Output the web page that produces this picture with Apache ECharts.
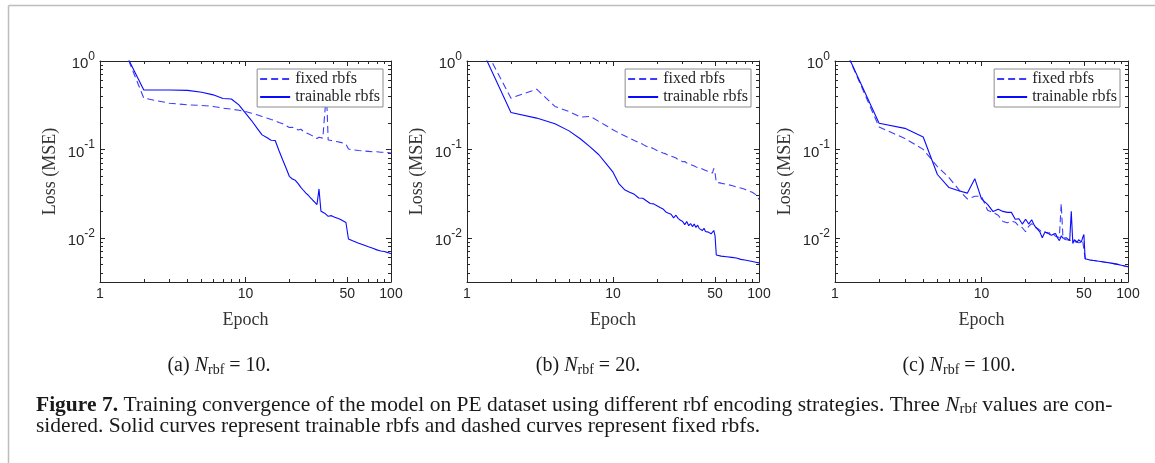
<!DOCTYPE html>
<html><head><meta charset="utf-8">
<script src="https://cdn.jsdelivr.net/npm/echarts@6/dist/echarts.min.js"></script>
<style>html,body{margin:0;padding:0;background:#fff}#c{width:1155px;height:463px}</style>
</head><body><div id="c"></div>
<script>
// ---------------- data ----------------
const epochs = [1,2,3,4,5,6,7,8,9,10,11,12,13,14,15,16,17,18,19,20,21,22,23,24,25,26,27,28,29,30,
  31,32,33,34,35,36,37,38,39,40,41,42,43,44,45,46,47,48,49,50,51,52,55,60,65,70,75,80,85,90,95,100];

// (a) N_rbf = 10
const trainA = [4.6,0.47,0.47,0.465,0.443,0.414,0.376,0.372,0.319,0.257,
  0.212,0.174,0.146,0.136,0.127,0.126,0.0966,0.0764,0.0616,0.0496,
  0.0463,0.0447,0.041,0.0372,0.0345,0.032,0.0303,0.0283,0.0266,0.0252,
  0.0238,0.0357,0.0200,0.0196,0.0190,0.0188,0.0175,0.0183,0.0178,0.0175,
  0.0171,0.0168,0.0166,0.0163,0.0161,0.0158,0.0155,0.0152,0.0149,0.0145,
  0.0097,0.0095,
  0.0092,0.0087,0.0083,0.0079,0.0076,0.0073,0.0071,0.0070,0.0068,0.0066];
const fixedA = [6.5,0.38,0.333,0.319,0.314,0.306,0.293,0.285,0.277,0.268,
  0.257,0.246,0.236,0.226,0.218,0.211,0.202,0.195,0.185,0.177,
  0.178,0.172,0.166,0.169,0.160,0.155,0.150,0.146,0.142,0.138,
  0.133,0.137,0.135,0.134,0.133,0.45,0.128,0.127,0.126,0.125,
  0.124,0.123,0.122,0.121,0.120,0.119,0.118,0.117,0.115,0.112,
  0.101,0.100,
  0.099,0.097,0.096,0.095,0.094,0.094,0.093,0.093,0.092,0.091];

// (b) N_rbf = 20
const trainB = [3.1,0.261,0.226,0.195,0.162,0.131,0.106,0.087,0.0687,0.0552,
  0.0407,0.035,0.0327,0.031,0.0282,0.028,0.0261,0.0244,0.0242,0.023,
  0.022,0.0212,0.0196,0.019,0.0185,0.0168,0.018,0.0165,0.0158,0.0153,
  0.0141,0.0153,0.0137,0.0145,0.0134,0.0143,0.0131,0.0139,0.0127,0.013,
  0.0121,0.0128,0.0118,0.0123,0.0116,0.0121,0.0111,0.0114,0.0121,0.0105,
  0.0064,0.0063,
  0.0062,0.0061,0.0060,0.0059,0.0057,0.0056,0.0055,0.0054,0.0053,0.0052];
const fixedB = [3.34,0.38,0.48,0.306,0.268,0.232,0.236,0.207,0.185,0.167,
  0.153,0.143,0.134,0.126,0.12,0.114,0.108,0.106,0.102,0.097,
  0.094,0.091,0.089,0.085,0.0837,0.082,0.08,0.076,0.075,0.0725,
  0.073,0.07,0.0688,0.0672,0.068,0.065,0.066,0.062,0.064,0.061,
  0.062,0.059,0.06,0.057,0.059,0.055,0.057,0.054,0.061,0.054,
  0.0425,0.042,
  0.0415,0.0403,0.039,0.0375,0.0366,0.0354,0.0338,0.0327,0.0308,0.0272];

// (c) N_rbf = 100
const trainC = [2.4,0.198,0.173,0.138,0.052,0.037,0.034,0.032,0.0467,0.0275,
  0.0239,0.0198,0.021,0.0199,0.0194,0.0194,0.0162,0.0164,0.0143,0.0162,
  0.0143,0.016,0.0137,0.0126,0.0117,0.0100,0.0115,0.0115,0.011,0.0107,
  0.011,0.0112,0.0100,0.0093,0.0105,0.0099,0.0099,0.01,0.0097,0.0093,
  0.0199,0.0086,0.0095,0.0093,0.0089,0.0095,0.0093,0.009,0.0100,0.0109,
  0.0058,0.0057,
  0.0056,0.0055,0.0054,0.0053,0.0052,0.0051,0.0050,0.0049,0.0048,0.0047];
const fixedC = [2.5,0.179,0.133,0.1,0.064,0.048,0.035,0.0275,0.0295,0.0295,
  0.0205,0.0193,0.018,0.0153,0.0148,0.0154,0.015,0.0135,0.013,0.0117,
  0.0135,0.0145,0.0132,0.0128,0.0122,0.0115,0.0118,0.0112,0.0114,0.0108,
  0.011,0.0104,0.0106,0.0101,0.0245,0.0098,0.0101,0.0095,0.0098,0.0094,
  0.0096,0.0091,0.0094,0.009,0.0093,0.0088,0.0092,0.0089,0.0094,0.009,
  0.0058,0.0057,
  0.0056,0.0055,0.0054,0.0053,0.0052,0.0051,0.005,0.0049,0.0048,0.0047];

const xMajorTicks = [1,10,50,100];
const xMinorTicks = [2,3,4,5,6,7,8,9,20,30,40,60,70,80,90];
const yMajorTicks = [0.01,0.1,1];
const yMinorTicks = [0.004,0.005,0.006,0.007,0.008,0.009,0.02,0.03,0.04,0.05,0.06,0.07,0.08,0.09,0.2,0.3,0.4,0.5,0.6,0.7,0.8,0.9];
const X_MIN = 1, X_MAX = 100, Y_MIN = 0.0031623, Y_MAX = 1;
const legendNames = ['fixed rbfs','trainable rbfs'];
const panelLetters = ['a','b','c'];
const panelNrbf = ['10','20','100'];
const xName = 'Epoch';
const yName = 'Loss (MSE)';
const captionLine1 = ['Figure 7.', ' Training convergence of the model on PE dataset using different rbf encoding strategies. Three ', 'N', 'rbf', ' values are con-'];
const captionLine2 = 'sidered. Solid curves represent trainable rbfs and dashed curves represent fixed rbfs.';

// ---------------- layout / style ----------------
const panels = [
  {grid:{left:100, top:61, width:291, height:221}, legendRight:772, capX:219, fixed:fixedA, train:trainA},
  {grid:{left:467, top:61, width:292, height:221}, legendRight:404, capX:588, fixed:fixedB, train:trainB},
  {grid:{left:835, top:61, width:293, height:221}, legendRight:35,  capX:959, fixed:fixedC, train:trainC}
];
const SANS = 'Liberation Sans, Arial, sans-serif';
const SERIF = 'Liberation Serif, Times New Roman, serif';
const AX = '#262626';
const TXT = '#1a1a1a';
const BLUE_SOLID = '#0a0aff';
const BLUE_DASH = '#3c3cff';

const grids = [], xAxes = [], yAxes = [], series = [], legends = [], gEls = [];

function xAxisDef(gi, pos, ticks, len, label, line, name) {
  return {
    type:'log', logBase:10, gridIndex:gi, position:pos, min:X_MIN, max:X_MAX,
    axisLine:{show:line, onZero:false, lineStyle:{color:AX, width:1}},
    axisTick:{show:true, inside:true, length:len, customValues:ticks, lineStyle:{color:AX, width:1}},
    axisLabel: label ? {show:true, customValues:xMajorTicks, margin:5, color:AX, fontFamily:SANS, fontSize:14,
      formatter:v => String(Math.round(v))} : {show:false},
    splitLine:{show:false}, minorTick:{show:false},
    name: name || '', nameLocation:'middle', nameGap:29,
    nameTextStyle:{fontFamily:SERIF, fontSize:18, color:'#333'}
  };
}
function yAxisDef(gi, pos, ticks, len, label, line, name) {
  return {
    type:'log', logBase:10, gridIndex:gi, position:pos, min:Y_MIN, max:Y_MAX,
    axisLine:{show:line, onZero:false, lineStyle:{color:AX, width:1}},
    axisTick:{show:true, inside:true, length:len, customValues:ticks, lineStyle:{color:AX, width:1}},
    axisLabel: label ? {show:true, customValues:yMajorTicks, margin:5, color:AX,
      formatter:v => '{b|10}{s|' + Math.round(Math.log10(v)) + '}',
      rich:{
        b:{fontFamily:SANS, fontSize:15, color:AX, lineHeight:21, verticalAlign:'bottom'},
        s:{fontFamily:SANS, fontSize:12, color:AX, lineHeight:21, verticalAlign:'top'}
      }} : {show:false},
    splitLine:{show:false}, minorTick:{show:false},
    name: name || '', nameLocation:'middle', nameGap:41, nameRotate:90,
    nameTextStyle:{fontFamily:SERIF, fontSize:18, color:'#333'}
  };
}

panels.forEach((p, gi) => {
  grids.push(p.grid);
  const xb = xAxes.length, yb = yAxes.length;
  xAxes.push(xAxisDef(gi,'bottom',xMajorTicks,5,true,true,xName));
  xAxes.push(xAxisDef(gi,'bottom',xMinorTicks,3,false,false));
  xAxes.push(xAxisDef(gi,'top',xMajorTicks,5,false,true));
  xAxes.push(xAxisDef(gi,'top',xMinorTicks,3,false,false));
  yAxes.push(yAxisDef(gi,'left',yMajorTicks,5,true,true,yName));
  yAxes.push(yAxisDef(gi,'left',yMinorTicks,3,false,false));
  yAxes.push(yAxisDef(gi,'right',yMajorTicks,5,false,true));
  yAxes.push(yAxisDef(gi,'right',yMinorTicks,3,false,false));

  series.push({
    name:legendNames[0], type:'line', xAxisIndex:xb, yAxisIndex:yb,
    data:epochs.map((e,i)=>[e, p.fixed[i]]),
    symbol:'none', showSymbol:false, clip:true, z:2,
    lineStyle:{color:BLUE_DASH, width:1.1, type:[7,4]}, itemStyle:{color:BLUE_DASH}
  });
  series.push({
    name:legendNames[1], type:'line', xAxisIndex:xb, yAxisIndex:yb,
    data:epochs.map((e,i)=>[e, p.train[i]]),
    symbol:'none', showSymbol:false, clip:true, z:3,
    lineStyle:{color:BLUE_SOLID, width:1.1, type:'solid'}, itemStyle:{color:BLUE_SOLID}
  });

  legends.push({
    orient:'vertical', right:p.legendRight, top:69, data:legendNames,
    backgroundColor:'#ffffff', borderColor:'#8c8c8c', borderWidth:1, borderRadius:0,
    padding:[2,3,2,2], itemGap:2, itemWidth:30, itemHeight:14, selectedMode:false,
    itemStyle:{opacity:0, borderWidth:0},
    textStyle:{fontFamily:SERIF, fontSize:16, color:'#262626'}, z:10
  });

  gEls.push({
    type:'text', x:p.capX, y:366, silent:true,
    style:{
      text:'(' + panelLetters[gi] + ') {i|N}{sub|rbf} = ' + panelNrbf[gi] + '.',
      fontFamily:SERIF, fontSize:20, fill:TXT, align:'center', verticalAlign:'middle', lineHeight:23,
      rich:{
        i:{fontFamily:SERIF, fontSize:20, fontStyle:'italic', fill:TXT, lineHeight:23},
        sub:{fontFamily:SERIF, fontSize:14, fill:TXT, lineHeight:23, verticalAlign:'bottom'}
      }
    }
  });
});

// frame and figure caption
gEls.push({type:'line', silent:true, shape:{x1:8.5, y1:5.5, x2:1155, y2:5.5}, style:{stroke:'#bdbdbd', lineWidth:1.5}});
gEls.push({type:'line', silent:true, shape:{x1:8.5, y1:5.5, x2:8.5, y2:463}, style:{stroke:'#bdbdbd', lineWidth:1.5}});
gEls.push({
  type:'text', x:36, y:405, silent:true,
  style:{
    text:'{b|' + captionLine1[0] + '}' + captionLine1[1] + '{i|' + captionLine1[2] + '}{sub|' + captionLine1[3] + '}' + captionLine1[4],
    fontFamily:SERIF, fontSize:21.5, fill:TXT, align:'left', verticalAlign:'middle', lineHeight:24,
    rich:{
      b:{fontFamily:SERIF, fontSize:21.5, fontWeight:'bold', fill:TXT, lineHeight:24},
      i:{fontFamily:SERIF, fontSize:21.5, fontStyle:'italic', fill:TXT, lineHeight:24},
      sub:{fontFamily:SERIF, fontSize:15, fill:TXT, lineHeight:24, verticalAlign:'bottom'}
    }
  }
});
gEls.push({
  type:'text', x:36, y:426, silent:true,
  style:{text:captionLine2, fontFamily:SERIF, fontSize:21.5, fill:TXT, align:'left', verticalAlign:'middle'}
});

const chart = echarts.init(document.getElementById('c'), null, {renderer:'canvas'});
chart.setOption({
  animation:false,
  backgroundColor:'#ffffff',
  grid:grids, xAxis:xAxes, yAxis:yAxes, series:series, legend:legends,
  graphic:{elements:gEls}
});
</script>
</body></html>
